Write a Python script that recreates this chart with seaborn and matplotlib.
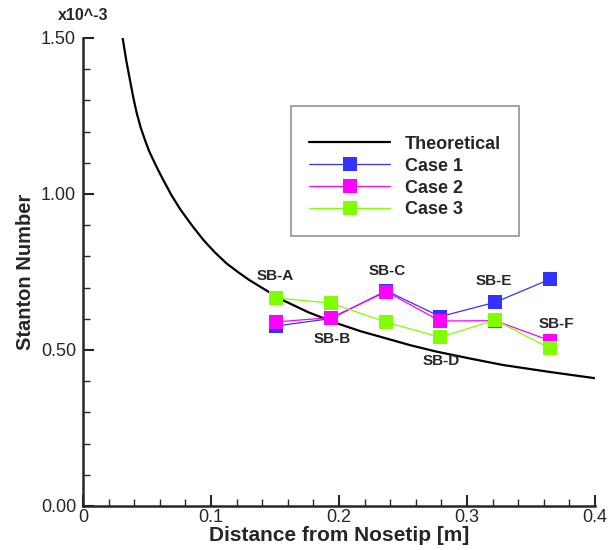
import pandas as pd
import matplotlib
matplotlib.use("Agg")
import matplotlib.pyplot as plt
import seaborn as sns
from matplotlib.ticker import MultipleLocator, FormatStrFormatter

# courbe theorique (x en m, St en 1e-3)
theo_x = [0.0310, 0.0338, 0.0367, 0.0393, 0.0420, 0.0450, 0.0484, 0.0515, 0.0549,
          0.0588, 0.0627, 0.0690, 0.0758, 0.0850, 0.0940, 0.1030, 0.1120, 0.1210,
          0.1300, 0.1460, 0.1550, 0.1760, 0.1980, 0.2170, 0.2370, 0.2560, 0.2760,
          0.3020, 0.3280, 0.3640, 0.4010]
theo_y = [1.499, 1.428, 1.365, 1.309, 1.259, 1.214, 1.173, 1.139, 1.109,
          1.076, 1.045, 0.997, 0.952, 0.900, 0.853, 0.813, 0.778, 0.750,
          0.724, 0.684, 0.662, 0.621, 0.586, 0.560, 0.537, 0.515, 0.495,
          0.473, 0.452, 0.430, 0.409]

# points de mesure SB-A ... SB-F
stations = ['SB-A', 'SB-B', 'SB-C', 'SB-D', 'SB-E', 'SB-F']
station_x = [0.151, 0.194, 0.237, 0.279, 0.322, 0.365]
case1 = [0.577, 0.601, 0.690, 0.607, 0.653, 0.727]
case2 = [0.590, 0.604, 0.687, 0.593, 0.594, 0.530]
case3 = [0.667, 0.650, 0.589, 0.541, 0.596, 0.505]

# position des etiquettes SB-x
label_x = [0.150, 0.195, 0.238, 0.280, 0.321, 0.370]
label_y = [0.738, 0.535, 0.754, 0.465, 0.722, 0.584]

sns.set_style("ticks")
plt.rcParams['font.family'] = ['Liberation Sans', 'DejaVu Sans']

theo = pd.DataFrame({'x': theo_x, 'St': theo_y})
cases = pd.DataFrame({
    'x': station_x * 3,
    'St': case1 + case2 + case3,
    'Case': ['Case 1'] * 6 + ['Case 2'] * 6 + ['Case 3'] * 6,
})
palette = {'Case 1': '#3333ff', 'Case 2': '#ff00ff', 'Case 3': '#80ff00'}

fig = plt.figure(figsize=(6.1, 5.5), dpi=100)
ax = fig.add_axes([83 / 610, 44 / 550, 512 / 610, 468 / 550])

sns.lineplot(data=theo, x='x', y='St', color='black', linewidth=1.6,
             label='Theoretical', ax=ax, sort=False)
sns.lineplot(data=cases, x='x', y='St', hue='Case', palette=palette,
             marker='s', markersize=9.5, markeredgewidth=0, linewidth=0.9,
             ax=ax, sort=False)

for name, lx, ly in zip(stations, label_x, label_y):
    ax.text(lx, ly, name, ha='center', va='center', fontsize=11,
            fontweight='bold')

ax.set_xlim(0, 0.4)
ax.set_ylim(0, 1.5)
ax.xaxis.set_major_locator(MultipleLocator(0.1))
ax.xaxis.set_minor_locator(MultipleLocator(0.02))
ax.yaxis.set_major_locator(MultipleLocator(0.5))
ax.yaxis.set_minor_locator(MultipleLocator(0.1))
ax.yaxis.set_major_formatter(FormatStrFormatter('%.2f'))
ax.xaxis.set_major_formatter(plt.FuncFormatter(lambda v, p: '0' if v == 0 else f'{v:.1f}'))
ax.tick_params(which='major', direction='in', length=8, width=1.5, labelsize=13, pad=2)
ax.tick_params(axis='y', which='major', pad=5)
ax.tick_params(which='minor', direction='in', length=5, width=1)
for s in ['top', 'right']:
    ax.spines[s].set_visible(False)
for s in ['left', 'bottom']:
    ax.spines[s].set_linewidth(1.8)

ax.set_xlabel('Distance from Nosetip [m]', fontsize=15, fontweight='bold', labelpad=0)
ax.set_ylabel('Stanton Number', fontsize=14.5, fontweight='bold', labelpad=4)
ax.text(0.0, 1.049, 'x10^-3', transform=ax.transAxes, ha='center', va='center',
        fontsize=11.5, fontweight='bold')

leg = ax.legend(loc='upper left', bbox_to_anchor=(0.406, 0.855), borderaxespad=0,
                frameon=True, fancybox=False, edgecolor='#777777',
                prop={'weight': 'bold', 'size': 13}, handlelength=4.5,
                borderpad=1.0, labelspacing=0.27, handletextpad=0.8,
                title=' ', title_fontsize=6)
leg.get_frame().set_linewidth(1.2)

fig.savefig('out.png', dpi=100)
